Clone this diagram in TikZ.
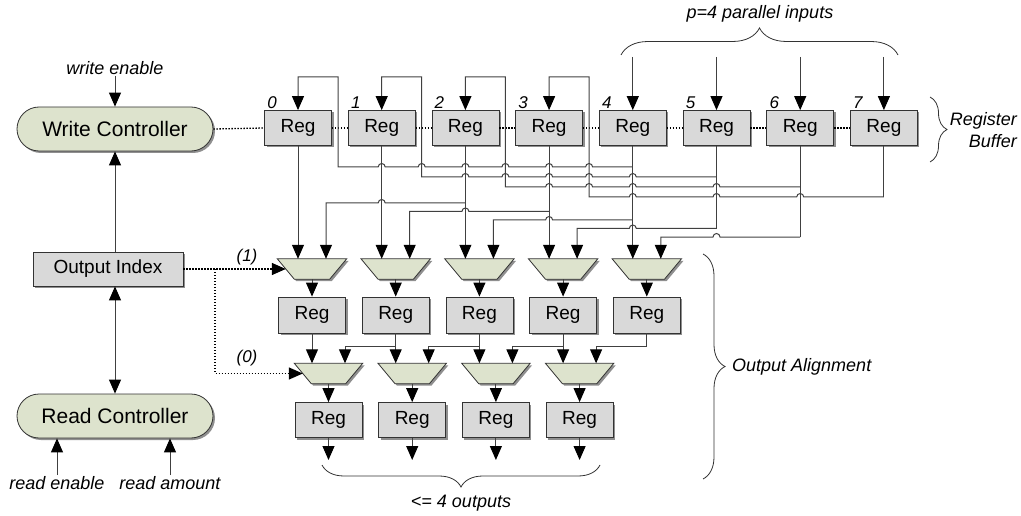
\documentclass[tikz,border=0pt]{standalone}
\usepackage{fontspec}
\setmainfont{Liberation Sans}
\usetikzlibrary{arrows.meta,shadows,decorations.pathreplacing,calc}

\definecolor{regfill}{RGB}{217,217,217}
\definecolor{ctlfill}{RGB}{221,227,205}

\tikzset{
  >={Triangle[length=14pt,width=12pt,color=black]},
  shade/.style={drop shadow={shadow xshift=2pt,shadow yshift=-2pt,fill=black!55,opacity=.8}},
  reg/.style={draw=black!80, fill=regfill, line width=.8pt, minimum width=67pt,
    minimum height=35pt, inner sep=0pt, font=\fontsize{19}{21}\selectfont, shade},
  ctrl/.style={draw=black!80, fill=ctlfill, line width=.8pt, rounded corners=22pt,
    minimum width=196pt, minimum height=44pt, inner sep=0pt,
    font=\fontsize{21}{24}\selectfont, shade},
  muxbox/.style={minimum width=69pt, minimum height=20pt, inner sep=0pt},
  muxbody/.style={draw=black!80, fill=ctlfill, line width=.8pt, shade},
  lbl/.style={font=\fontsize{18}{22}\selectfont\itshape, inner sep=1pt},
  idx/.style={font=\fontsize{17}{20}\selectfont\itshape, inner sep=0pt},
  wire/.style={draw=black!75, line width=1pt},
  arr/.style={wire, ->},
  ctl/.style={draw=black, line width=1.3pt, dash pattern=on 1.4pt off 1.6pt},
  curly/.style={decorate, decoration={brace, amplitude=#1}, draw=black!80, line width=.8pt}
}
\newcommand{\muxshape}[1]{%
  \filldraw[muxbody] (#1.north west) -- (#1.north east)
    -- ($(#1.south east)+(-17,0)$) -- ($(#1.south west)+(17,0)$) -- cycle;}

\begin{document}
\begin{tikzpicture}[x=1pt,y=-1pt]
\useasboundingbox (0,0) rectangle (1021,516);

% controllers
\node[ctrl] (wc) at (115,129) {Write Controller};
\node[reg, minimum width=150pt, minimum height=34pt] (oidx) at (108,269) {Output Index};
\node[ctrl] (rc) at (115,416) {Read Controller};
\node[lbl] (wen) at (115,68) {write enable};
\node[lbl] (ren) at (57,483) {read enable};
\node[lbl] (ram) at (170,483) {read amount};
\draw[arr] (wen.south) -- (wc.north);
\draw[arr] (wc.south |- oidx.north) -- (wc.south);
\draw[wire, <->] (wc.south |- oidx.south) -- (rc.north);
\draw[arr] (ren.north) -- (ren.north |- rc.south);
\draw[arr] (ram.north) -- (ram.north |- rc.south);

% register buffer
\foreach \i in {0,...,7}{
  \node[reg] (buf\i) at ({298+83.7*\i},128) {Reg};
  \node[idx, anchor=base west] (idx\i) at ($(buf\i.north west)+(3,-2)$) {\i};
}
\foreach \i in {0,...,3}
  \coordinate (fb\i) at ({298+83.7*\i+40},77);
\foreach \i in {4,...,7}{
  \coordinate (in\i) at (buf\i.north |- 0,57);
  \draw[arr] (in\i) -- (buf\i.north);
}
\draw[ctl] (wc.east) -- (buf0.west);
\foreach \i [evaluate=\i as \j using int(\i+1)] in {0,...,6}
  \draw[ctl] (buf\i.east) -- (buf\j.west);

% first alignment stage
\foreach \k in {0,...,4}{
  \node[muxbox] (sela\k) at ({298+83.7*\k+14},269) {};
  \muxshape{sela\k}
  \node[reg, minimum height=36pt] (rega\k) at (sela\k |- 0,315) {Reg};
  \draw[arr] (buf\k.south) -- (buf\k.south |- sela\k.north);
  \draw[arr] (sela\k.south) -- (rega\k.north);
}
\draw[wire] (buf5.south) -- (buf5.south |- 0,229);
\draw[wire] (buf6.south) -- (buf6.south |- 0,237);
\draw[wire] (buf7.south) -- (buf7.south |- 0,197);

% feedback into the buffer
\draw[arr] (buf4.south |- 0,167)
  foreach \c in {fb3,buf3,fb2,buf2,fb1,buf1} {-- ($(\c |- 0,167)+(3.5,0)$) arc[start angle=0,end angle=180,radius=3.5pt]}
  -- (fb0 |- 0,167) -- (fb0) -- (buf0.north |- fb0) -- (buf0.north);
\draw[arr] (buf5.south |- 0,177)
  foreach \c in {buf4,fb3,buf3,fb2,buf2} {-- ($(\c |- 0,177)+(3.5,0)$) arc[start angle=0,end angle=180,radius=3.5pt]}
  -- (fb1 |- 0,177) -- (fb1) -- (buf1.north |- fb1) -- (buf1.north);
\draw[arr] (buf6.south |- 0,187)
  foreach \c in {buf5,buf4,fb3,buf3} {-- ($(\c |- 0,187)+(3.5,0)$) arc[start angle=0,end angle=180,radius=3.5pt]}
  -- (fb2 |- 0,187) -- (fb2) -- (buf2.north |- fb2) -- (buf2.north);
\draw[arr] (buf7.south |- 0,197)
  foreach \c in {buf6,buf5,buf4} {-- ($(\c |- 0,197)+(3.5,0)$) arc[start angle=0,end angle=180,radius=3.5pt]}
  -- (fb3 |- 0,197) -- (fb3) -- (buf3.north |- fb3) -- (buf3.north);

% second mux inputs
\foreach \k [evaluate=\k as \m using int(\k+1), evaluate=\k as \n using int(\k+2),
             evaluate=\k as \lev using 203+8.5*\k] in {0,...,4}
  \draw[arr] (buf\n.south |- 0,\lev) -- ($(buf\m.south |- 0,\lev)+(3.5,0)$)
    arc[start angle=0,end angle=180,radius=3.5pt] -| ($(sela\k.north)+(14,0)$);

% second alignment stage
\foreach \k in {0,...,3}{
  \node[muxbox, minimum width=68pt] (selb\k) at ($(rega\k |- 0,373.5)+(16.5,0)$) {};
  \muxshape{selb\k}
  \node[reg] (regb\k) at (selb\k |- 0,420) {Reg};
  \coordinate (out\k) at (regb\k.south |- 0,460);
  \draw[arr] (rega\k.south) -- (rega\k.south |- selb\k.north);
  \draw[arr] (selb\k.south) -- (regb\k.north);
  \draw[arr] (regb\k.south) -- (out\k);
}
\draw[wire] (rega4.south) -- (rega4.south |- 0,346);
\foreach \k [evaluate=\k as \m using int(\k+1)] in {0,...,3}
  \draw[arr] (rega\m.south |- 0,346) -| ($(selb\k.north)+(16.5,0)$);

% select signals
\coordinate (sp) at (215,269);
\draw[ctl, ->] (oidx.east) -- ($(sela0.west)+(8.5,0)$);
\draw[ctl, ->] (sp) |- ($(selb0.west)+(8.5,0)$);
\node[idx] (s1) at (247,257) {(1)};
\node[idx] (s0) at (247,358) {(0)};

% braces
\draw[curly=27pt] (621,55) -- (898,55);
\node[lbl] (pin) at (760,14) {p=4 parallel inputs};
\draw[curly=17pt] (930,97) -- (930,162);
\node[lbl, align=right, anchor=east] (rbuf) at (1018,130) {Register\\Buffer};
\draw[curly=22pt] (703,254) -- (703,479);
\node[lbl, anchor=west] (oal) at (731,367) {Output Alignment};
\draw[curly=22pt] (600,465) -- (322,465);
\node[lbl] (nout) at (461,503) {<= 4 outputs};
\end{tikzpicture}
\end{document}
